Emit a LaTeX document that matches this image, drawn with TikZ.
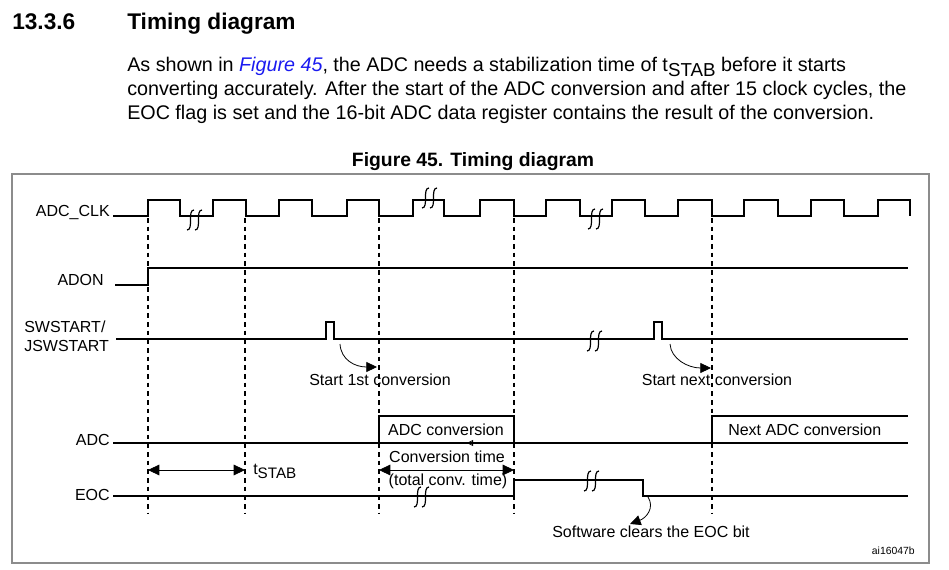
\documentclass[tikz,border=0pt]{standalone}
\usepackage{fontspec}
\setmainfont{Liberation Sans}
\usepackage{xcolor}
\usetikzlibrary{arrows.meta,positioning}
\definecolor{cFrame}{HTML}{8C8C8C}
\definecolor{cLink}{HTML}{1A1AF0}
\tikzset{
  sig/.style   = {line width=1.2pt, draw=black},
  guide/.style = {line width=0.8pt, dash pattern=on 3.5pt off 3pt},
  dim/.style   = {{Triangle[length=8.5pt,width=8pt]}-{Triangle[length=8.5pt,width=8pt]},
                  line width=0.6pt},
  cue/.style   = {-{Triangle[length=8pt,width=7.5pt]}, line width=0.6pt},
  lbl/.style   = {font=\fontsize{12}{14}\selectfont, inner sep=0pt},
  body/.style  = {font=\fontsize{14.8}{17}\selectfont, inner sep=0pt, anchor=base west},
  head/.style  = {font=\fontsize{17}{20}\selectfont\bfseries, inner sep=0pt, anchor=base west},
  frame/.style = {draw=cFrame, line width=0.8pt},
  pics/brk/.style = {code={
    \draw[line width=0.9pt] (-1,-10) .. controls (-8,-10) and (-1,10) .. (-8,10);
    \draw[line width=0.9pt] (7,-10) .. controls (0,-10) and (7,10) .. (0,10);
  }},
}
\newcommand{\tstab}{t\raisebox{-0.45ex}{\fontsize{0.95em}{1em}\selectfont STAB}}

\begin{document}
\begin{tikzpicture}[x=0.75pt, y=-0.75pt]
  \useasboundingbox (0,0) rectangle (949,570);

  % heading and text
  \node[head] (secno) at (12,30)  {13.3.6};
  \node[head] (sect)  at (127,30) {Timing diagram};
  \node[body] (txt1) at (127,72)  {As shown in {\color{cLink}\itshape Figure 45}, the ADC needs a stabilization time of \tstab{} before it starts};
  \node[body] (txt2) at (127,96)  {converting accurately. After the start of the ADC conversion and after 15 clock cycles, the};
  \node[body] (txt3) at (127,120) {EOC flag is set and the 16-bit ADC data register contains the result of the conversion.};
  \node[font=\fontsize{14.5}{17}\selectfont\bfseries, inner sep=0pt, anchor=base] (cap) at (473,167) {Figure 45. Timing diagram};

  \draw[frame] (12,174) rectangle (929,563);

  % signal names
  \node[lbl, anchor=east] (lclk)  at (110,213) {ADC\_CLK};
  \node[lbl, anchor=east] (ladon) at (104,280) {ADON};
  \node[lbl, anchor=west, align=left] (lsw) at (24,336) {SWSTART/\\JSWSTART};
  \node[lbl, anchor=east] (ladc)  at (110,440) {ADC};
  \node[lbl, anchor=east] (leoc)  at (110,495) {EOC};

  % waveforms
  \draw[sig] (113,216) \foreach \x/\y in {148/200,180/216,213/200,246/216,279/200,312/216,
      347/200,379/216,413/200,444/216,480/200,514/216,546/200,580/216,612/200,645/216,
      678/200,712/216,744/200,778/216,811/200,844/216,878/200,910/216} { -| (\x,\y) };
  \draw[sig] (115,285) -| (148,268) -- (908,268);
  \draw[sig] (116,339) -| (326,322) -| (334,339) -| (654,322) -| (662,339) -- (908,339);
  \draw[sig] (113,443) -- (908,443);
  \draw[sig] (379,443) |- (514,416) -- (514,443);
  \draw[sig] (712,443) |- (908,416);
  \draw[sig] (113,496) -| (514,480) -| (643,496) -- (908,496);

  \pic at (195,220) {brk};
  \pic at (430,198) {brk};
  \pic at (596,219) {brk};
  \pic at (595,341) {brk};
  \pic at (422,497) {brk};
  \pic at (592,481) {brk};

  \foreach \x in {148,245,379,514,712}
    \draw[guide] (\x,218) -- (\x,513);

  % bus texts
  \node[lbl] (lconv) at (446,430) {ADC conversion};
  \node[lbl, anchor=west] (lnext) at (728,430) {Next ADC conversion};
  \draw[-{Triangle[open,length=4.5pt,width=4.5pt]}, line width=0.6pt] (478,443) -- (467,443);

  % timing arrows
  \draw[dim] (148,470) -- (245,470);
  \node[lbl, anchor=west] (lstab) at (253,471) {\tstab};
  \draw[dim] (379,470) -- (514,470);
  \node[lbl] (lctime) at (447,457) {Conversion time};
  \node[lbl] (ltotal) at (448,481) {(total conv. time)};

  % events
  \coordinate (sw1) at (340,344);
  \coordinate (go1) at (377,367);
  \coordinate (sw2) at (670,344);
  \coordinate (go2) at (711,368);
  \coordinate (clr) at (648,497);
  \coordinate (clrtip) at (630,524);
  \draw[cue] (sw1) .. controls (341,360) and (355,367) .. (go1);
  \draw[cue] (sw2) .. controls (671,359) and (688,368) .. (go2);
  \draw[cue] (clr) .. controls (655,508) and (646,518) .. (clrtip);
  \node[lbl] (lst1) at (380,380) {Start 1st conversion};
  \node[lbl] (lstn) at (717,380) {Start next conversion};
  \node[lbl] (lsoft) at (651,532) {Software clears the EOC bit};

  \node[font=\fontsize{7.8}{9}\selectfont, inner sep=0pt, anchor=east] (ref) at (915,551) {ai16047b};
\end{tikzpicture}
\end{document}
